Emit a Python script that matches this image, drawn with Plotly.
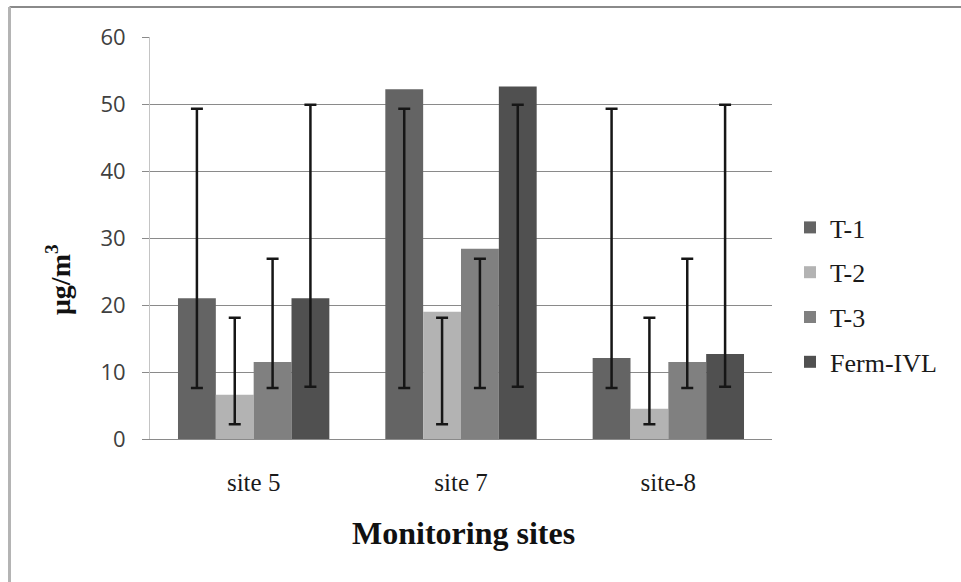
import plotly.graph_objects as go

sites = ["site 5", "site 7", "site-8"]
series_names = ["T-1", "T-2", "T-3", "Ferm-IVL"]
values = {
    "T-1": [21.0, 52.2, 12.1],
    "T-2": [6.6, 19.0, 4.5],
    "T-3": [11.5, 28.4, 11.5],
    "Ferm-IVL": [21.0, 52.6, 12.7],
}
err_low = {
    "T-1": [7.6, 7.6, 7.6],
    "T-2": [2.2, 2.2, 2.2],
    "T-3": [7.6, 7.6, 7.6],
    "Ferm-IVL": [7.8, 7.8, 7.8],
}
err_high = {
    "T-1": [49.3, 49.3, 49.3],
    "T-2": [18.1, 18.1, 18.1],
    "T-3": [26.9, 26.9, 26.9],
    "Ferm-IVL": [49.9, 49.9, 49.9],
}
colors = {"T-1": "#646464", "T-2": "#b3b3b3", "T-3": "#808080", "Ferm-IVL": "#505050"}
y_ticks = [0, 10, 20, 30, 40, 50, 60]

fig = go.Figure()
for name in series_names:
    fig.add_trace(go.Bar(
        x=sites, y=values[name], name=name, offsetgroup=name, legendgroup=name,
        marker=dict(color=colors[name], line=dict(width=0)),
    ))
for name in series_names:
    lo = err_low[name]
    hi = err_high[name]
    span = [h - l for h, l in zip(hi, lo)]
    fig.add_trace(go.Bar(
        x=sites, y=span, base=lo, offsetgroup=name, showlegend=False,
        marker=dict(color="rgba(0,0,0,0)", line=dict(width=0)),
        error_y=dict(type="data", symmetric=False, array=[0] * len(span),
                     arrayminus=span, color="#161616", thickness=2.5, width=6),
        hoverinfo="skip",
    ))

L, R, T, B = 150, 189, 37, 143
W, H = 961, 582
pw, ph = W - L - R, H - T - B

def px_x(p):
    return (p - L) / pw

def px_y(p):
    return (H - B - p) / ph

fig.update_layout(
    width=W, height=H,
    margin=dict(l=L, r=R, t=T, b=B),
    paper_bgcolor="white", plot_bgcolor="white",
    barmode="group", bargap=0.27, bargroupgap=0,
    showlegend=True,
    legend=dict(
        x=px_x(790), y=px_y(204), xanchor="left", yanchor="top",
        font=dict(family="Liberation Serif", size=26, color="#1a1a1a"),
        tracegroupgap=8, traceorder="grouped", bgcolor="rgba(0,0,0,0)",
    ),
    xaxis=dict(
        showgrid=False, showline=True, linecolor="#8a8a8a", linewidth=1,
        ticks="", ticklabelstandoff=21,
        tickfont=dict(family="Liberation Serif", size=25, color="#1a1a1a"),
    ),
    yaxis=dict(
        range=[0, 60], tickvals=y_ticks, showgrid=True, gridcolor="#8a8a8a",
        gridwidth=1, showline=True, linecolor="#c4c4c4", linewidth=1,
        ticks="outside", ticklen=7, tickcolor="#8a8a8a", ticklabelstandoff=12,
        zeroline=False,
        tickfont=dict(family="Open Sans", size=22, color="#404040"),
    ),
    annotations=[
        dict(text="<b>μg/m<sup>3</sup></b>", xref="paper", yref="paper",
             x=px_x(58), y=px_y(280), xanchor="center", yanchor="middle",
             textangle=-90, showarrow=False,
             font=dict(family="Liberation Serif", size=28, color="#111111")),
        dict(text="<b>Monitoring sites</b>", xref="paper", yref="paper",
             x=px_x(463), y=px_y(533), xanchor="center", yanchor="middle",
             showarrow=False,
             font=dict(family="Liberation Serif", size=32, color="#111111")),
    ],
    shapes=[
        dict(type="line", xref="paper", yref="paper", x0=px_x(9.5), x1=px_x(961),
             y0=px_y(7), y1=px_y(7), line=dict(color="#8a8a8a", width=2)),
        dict(type="line", xref="paper", yref="paper", x0=px_x(9.5), x1=px_x(9.5),
             y0=px_y(7), y1=px_y(582), line=dict(color="#b4b4b4", width=3)),
    ],
)
fig.write_html("out.html")
